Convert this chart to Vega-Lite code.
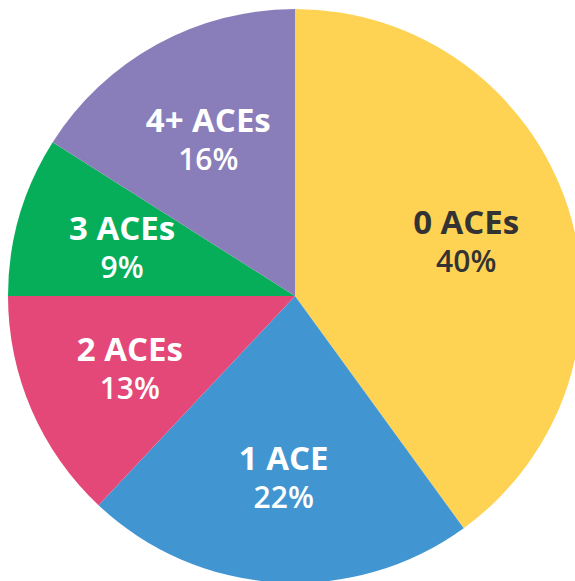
{
  "$schema": "https://vega.github.io/schema/vega-lite/v6.json",
  "width": 575,
  "height": 581,
  "autosize": "none",
  "padding": 0,
  "background": "white",
  "config": {"view": {"stroke": null}},
  "data": {
    "values": [
      {"group": "0 ACEs", "value": 40, "pct": "40%"},
      {"group": "1 ACE", "value": 22, "pct": "22%"},
      {"group": "2 ACEs", "value": 13, "pct": "13%"},
      {"group": "3 ACEs", "value": 9, "pct": "9%"},
      {"group": "4+ ACEs", "value": 16, "pct": "16%"}
    ]
  },
  "encoding": {
    "theta": {"field": "value", "type": "quantitative", "stack": true},
    "order": {"field": "group", "sort": "ascending"}
  },
  "layer": [
    {
      "mark": {"type": "arc", "outerRadius": 287, "x": 295, "y": 296},
      "encoding": {
        "color": {
          "field": "group",
          "type": "nominal",
          "legend": null,
          "scale": {
            "domain": ["0 ACEs", "1 ACE", "2 ACEs", "3 ACEs", "4+ ACEs"],
            "range": ["#FED353", "#4196D2", "#E34878", "#06AE5A", "#8A7EBA"]
          }
        }
      }
    },
    {
      "mark": {"type": "text", "radius": 180, "x": 295, "y": 300, "dy": -20, "font": "Open Sans", "fontWeight": "bold", "fontSize": 33, "align": "center", "baseline": "middle"},
      "encoding": {
        "text": {"field": "group", "type": "nominal"},
        "color": {
          "field": "group",
          "type": "nominal",
          "legend": null,
          "scale": {
            "domain": ["0 ACEs", "1 ACE", "2 ACEs", "3 ACEs", "4+ ACEs"],
            "range": ["#333333", "#ffffff", "#ffffff", "#ffffff", "#ffffff"]
          }
        }
      }
    },
    {
      "mark": {"type": "text", "radius": 180, "x": 295, "y": 300, "dy": 19, "font": "Open Sans", "fontWeight": 600, "fontSize": 30, "align": "center", "baseline": "middle"},
      "encoding": {
        "text": {"field": "pct", "type": "nominal"},
        "detail": {"field": "group", "type": "nominal"},
        "color": {
          "field": "group",
          "type": "nominal",
          "legend": null,
          "scale": {
            "domain": ["0 ACEs", "1 ACE", "2 ACEs", "3 ACEs", "4+ ACEs"],
            "range": ["#333333", "#ffffff", "#ffffff", "#ffffff", "#ffffff"]
          }
        }
      }
    }
  ],
  "resolve": {"scale": {"color": "independent"}}
}
